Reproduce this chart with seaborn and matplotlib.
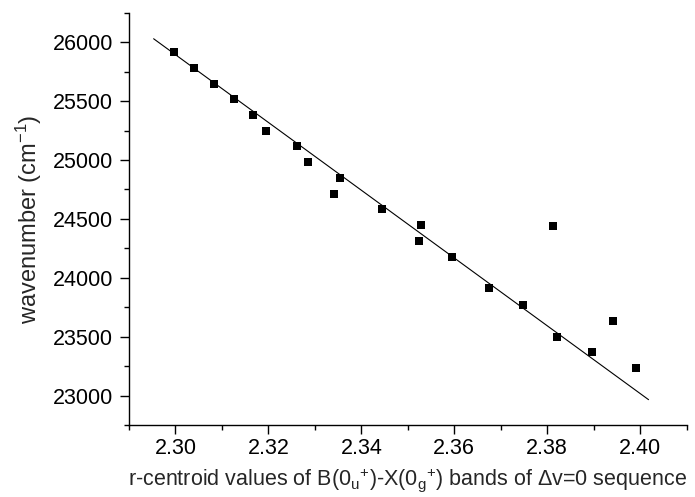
import matplotlib
matplotlib.use("Agg")
import matplotlib.pyplot as plt
import seaborn as sns
import pandas as pd
from matplotlib.ticker import MultipleLocator

# ---- data ----
r_centroid = [2.2996, 2.3039, 2.3082, 2.3125, 2.3166, 2.3194, 2.3262, 2.3285,
              2.3341, 2.3355, 2.3444, 2.3523, 2.3528, 2.3595, 2.3675, 2.3747,
              2.3812, 2.3821, 2.3896, 2.3942, 2.3990]
wavenumber = [25915, 25783, 25648, 25517, 25382, 25250, 25117, 24981,
              24713, 24851, 24580, 24312, 24447, 24176, 23911, 23770,
              24442, 23501, 23366, 23637, 23230]
fit_x = [2.2953, 2.4018]
fit_y = [26029, 22965]
x_ticks = [2.30, 2.32, 2.34, 2.36, 2.38, 2.40]
y_ticks = [23000, 23500, 24000, 24500, 25000, 25500, 26000]

sns.set_style("ticks")
plt.rcParams["font.family"] = ["Liberation Sans", "DejaVu Sans"]
plt.rcParams["mathtext.fontset"] = "custom"
plt.rcParams["mathtext.rm"] = "Liberation Sans"
plt.rcParams["mathtext.it"] = "Liberation Sans:italic"
plt.rcParams["mathtext.bf"] = "Liberation Sans:bold"

df = pd.DataFrame({"x": r_centroid, "y": wavenumber})
fit = pd.DataFrame({"x": fit_x, "y": fit_y})

fig = plt.figure(figsize=(6.95, 4.97), dpi=100)
ax = fig.add_axes([0.1856, 0.1449, 0.988 - 0.1856, 0.9744 - 0.1449])

sns.lineplot(data=fit, x="x", y="y", ax=ax, color="black", linewidth=0.8)
sns.scatterplot(data=df, x="x", y="y", ax=ax, marker="s", color="black",
                s=40, edgecolor="black", linewidth=0, zorder=3)

ax.set_xlim(2.29, 2.41)
ax.set_ylim(22750, 26250)
ax.set_xticks(x_ticks)
ax.set_xticklabels([f"{v:.2f}" for v in x_ticks])
ax.set_yticks(y_ticks)
ax.set_yticklabels([str(v) for v in y_ticks])
ax.xaxis.set_minor_locator(MultipleLocator(0.01))
ax.yaxis.set_minor_locator(MultipleLocator(250))

for s in ["top", "right"]:
    ax.spines[s].set_visible(False)
for s in ["left", "bottom"]:
    ax.spines[s].set_linewidth(1.0)
    ax.spines[s].set_color("black")

ax.tick_params(axis="both", which="major", direction="out", length=6.5, width=1.0,
               labelsize=15.5, colors="black")
ax.tick_params(axis="x", which="major", pad=3)
ax.tick_params(axis="y", which="major", pad=5)
ax.tick_params(axis="both", which="minor", direction="out", length=3.5, width=1.0,
               colors="black")

ax.set_xlabel(r"r-centroid values of B(0$_\mathregular{u}{}^\mathregular{+}$)-X(0$_\mathregular{g}{}^\mathregular{+}$) bands of $\mathregular{\Delta}$v=0 sequence",
              fontsize=15.5, labelpad=5)
ax.set_ylabel(r"wavenumber (cm$^\mathregular{-1}$)", fontsize=17, labelpad=6)

fig.savefig("out.png", dpi=100)
